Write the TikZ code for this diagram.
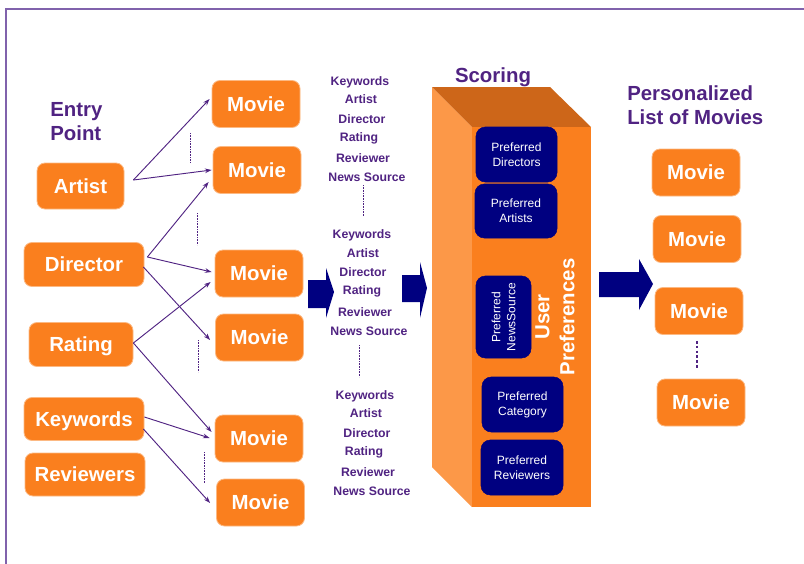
\documentclass[tikz,border=0pt]{standalone}
\usepackage{fontspec}
\setmainfont{Liberation Sans}
\usetikzlibrary{calc,arrows.meta}
\definecolor{boxorange}{RGB}{250,127,30}
\definecolor{sideorange}{RGB}{252,152,72}
\definecolor{toporange}{RGB}{205,102,25}
\definecolor{inkpurple}{RGB}{80,35,130}
\definecolor{navy}{RGB}{0,0,128}
\definecolor{framepurple}{RGB}{128,98,172}

\begin{document}
\begin{tikzpicture}[x=0.75pt,y=-0.75pt,
  every node/.style={inner sep=0pt},
  orangebox/.style={fill=boxorange, draw=boxorange!55!white, line width=0.6pt,
    rounded corners=6pt, text=white, text height=11pt, text depth=0pt,
    font=\fontsize{15.3}{18}\selectfont\bfseries},
  moviebox/.style={orangebox, minimum width=66pt, minimum height=35.25pt},
  prefbox/.style={fill=navy, draw=navy, rounded corners=7pt, text=white, align=center,
    font=\fontsize{9}{11.25}\selectfont},
  headline/.style={text=inkpurple, font=\fontsize{15.3}{18}\selectfont\bfseries, align=left},
  attr/.style={text=inkpurple, font=\fontsize{9.2}{11}\selectfont\bfseries, anchor=base},
  link/.style={draw=inkpurple, line width=0.7pt, -{Stealth[length=5pt,width=3.5pt]}},
  gap/.style={draw=inkpurple, line width=0.5pt, dash pattern=on 0.6pt off 0.6pt}
]

\useasboundingbox (0,0) rectangle (804,564);

% page frame
\draw[framepurple, line width=0.9pt] (804,9) -- (6,9) -- (6,564);

% headings
\node[headline, anchor=north west] (entry) at (50,102) {Entry\\Point};
\node[headline, anchor=base] (scoring) at (493,82) {Scoring};
\node[headline, anchor=north west] (plist) at (627,85) {Personalized\\List of Movies};

% entry points
\node[orangebox, minimum width=65.25pt, minimum height=34.5pt] (artist) at (80.5,186) {Artist};
\node[orangebox, minimum width=90pt, minimum height=33pt] (director) at (84,264.5) {Director};
\node[orangebox, minimum width=78pt, minimum height=33pt] (rating) at (81,344.5) {Rating};
\node[orangebox, minimum width=90pt, minimum height=32.25pt] (keywords) at (84,419) {Keywords};
\node[orangebox, minimum width=90pt, minimum height=32.25pt] (reviewers) at (85,474.5) {Reviewers};

% movies found from the entry points
\node[moviebox] (m1) at (256,104) {Movie};
\node[moviebox] (m2) at (257,170) {Movie};
\node[moviebox] (m3) at (259,273.5) {Movie};
\node[moviebox] (m4) at (259.5,337.5) {Movie};
\node[moviebox] (m5) at (259,438.5) {Movie};
\node[moviebox] (m6) at (260.5,502.5) {Movie};

% links entry point -> movie
\draw[link] ($(artist.east)+(9,-6)$) -- ($(m1.west)+(-2,-5)$);
\draw[link] ($(artist.east)+(9,-6)$) -- ($(m2.west)+(-1,0)$);
\draw[link] ($(director.east)+(3,-7.5)$) -- ($(m2.west)+(-4,12)$);
\draw[link] ($(director.east)+(3,-7.5)$) -- ($(m3.west)+(-3,-1.5)$);
\draw[link] ($(director.east)+(-1,2.5)$) -- ($(m4.west)+(-5,2.5)$);
\draw[link] ($(rating.east)+(0,-1.5)$) -- ($(m3.west)+(-4,8.5)$);
\draw[link] ($(rating.east)+(0,-1.5)$) -- ($(m5.west)+(-3,-6.5)$);
\draw[link] ($(keywords.east)+(0,-2)$) -- ($(m5.west)+(-5,-0.5)$);
\draw[link] ($(keywords.east)+(-1,10)$) -- ($(m6.west)+(-6,0.5)$);

% elided movies
\draw[gap] (190,133) -- (190,163);
\draw[gap] (197,213) -- (197,245);
\draw[gap] (198,340) -- (198,372);
\draw[gap] (204,452) -- (204,483);

% movie attributes
\node[attr] (ka) at (360,85) {Keywords};
\node[attr] (aa) at (361,103) {Artist};
\node[attr] (da) at (362,123) {Director};
\node[attr] (ra) at (359,141) {Rating};
\node[attr] (va) at (363,162) {Reviewer};
\node[attr] (na) at (367,181) {News Source};
\draw[gap] (363,185) -- (363,216);
\node[attr] (kb) at (362,238) {Keywords};
\node[attr] (ab) at (363,257) {Artist};
\node[attr] (db) at (363,276) {Director};
\node[attr] (rb) at (362,294) {Rating};
\node[attr] (vb) at (365,316) {Reviewer};
\node[attr] (nb) at (369,335) {News Source};
\draw[gap] (359,345) -- (359,377);
\node[attr] (kc) at (365,399) {Keywords};
\node[attr] (ac) at (366,417) {Artist};
\node[attr] (dc) at (367,437) {Director};
\node[attr] (rc) at (364,455) {Rating};
\node[attr] (vc) at (368,476) {Reviewer};
\node[attr] (nc) at (372,495) {News Source};

% block arrows
\fill[navy] (308,280) -- (326,280) -- (326,268) -- (334,292) -- (326,318) -- (326,308) -- (308,308) -- cycle;
\fill[navy] (402,275) -- (420,275) -- (420,262) -- (427,288) -- (420,318) -- (420,302) -- (402,302) -- cycle;
\fill[navy] (599,272) -- (639,272) -- (639,259) -- (653,284) -- (639,310) -- (639,297) -- (599,297) -- cycle;

% scoring block
\fill[sideorange] (432,87) -- (472,127) -- (472,507) -- (432,467) -- cycle;
\fill[toporange] (432,87) -- (550,87) -- (591,127) -- (472,127) -- cycle;
\fill[boxorange] (472,127) rectangle (591,507);

\node[prefbox, minimum width=60.75pt, minimum height=41.25pt] (pdir) at (516.5,154.5) {Preferred\\Directors};
\node[prefbox, minimum width=61.5pt, minimum height=40.5pt] (part) at (516,211) {Preferred\\Artists};
\node[prefbox, rotate=90, minimum width=61.5pt, minimum height=41.25pt] (pnews) at (503.5,317) {Preferred\\NewsSource};
\node[prefbox, minimum width=60.75pt, minimum height=41.25pt] (pcat) at (522.5,404.5) {Preferred\\Category};
\node[prefbox, minimum width=61.5pt, minimum height=41.25pt] (prev) at (522,467.5) {Preferred\\Reviewers};
\node[rotate=90, align=center, text=white, font=\fontsize{15.3}{18.75}\selectfont\bfseries] (userpref) at (555,317) {User\\Preferences};

% personalized list
\node[moviebox] (r1) at (696,172.5) {Movie};
\node[moviebox] (r2) at (697,239) {Movie};
\node[moviebox] (r3) at (699,311) {Movie};
\node[moviebox] (r4) at (701,402.5) {Movie};
\draw[inkpurple, line width=2.2pt, dash pattern=on 2pt off 1.6pt] (r3.south) ++(-2,6) -- ++(0,27);
\end{tikzpicture}
\end{document}
